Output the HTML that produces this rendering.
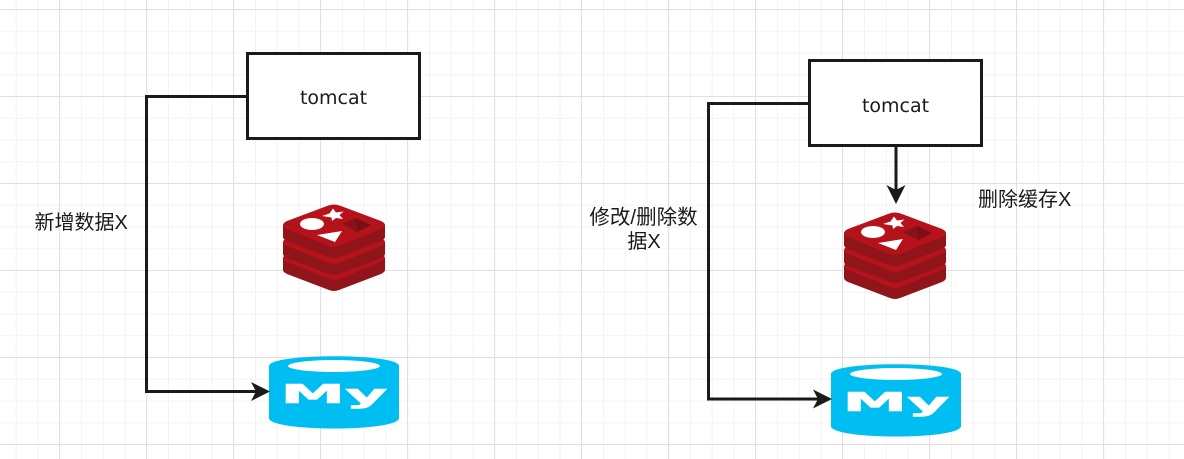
<!DOCTYPE html>
<html><head><meta charset="utf-8"><style>
html,body{margin:0;padding:0;background:#fff;width:1184px;height:459px;overflow:hidden}
svg{display:block}
text{fill:#1a1a1a}
.cjk{font-family:"Liberation Sans","Noto Sans CJK SC",sans-serif;font-size:20px}
.tc{font-family:"DejaVu Sans",sans-serif;font-size:19px;text-anchor:middle}
.my{font-family:"DejaVu Sans",sans-serif;font-weight:bold;fill:#fff;stroke:#fff;stroke-width:.6px}
</style></head><body>
<svg width="1184" height="459" viewBox="0 0 1184 459" xmlns="http://www.w3.org/2000/svg">
<defs>
<pattern id="minor" x="-6" y="9" width="21.75" height="21.75" patternUnits="userSpaceOnUse">
<path d="M0.5 0V21.75M0 0.5H21.75" stroke="#f3f3f3" stroke-width="1" fill="none"/>
</pattern>
<pattern id="major" x="59" y="9" width="87" height="87" patternUnits="userSpaceOnUse">
<path d="M0.5 0V87M0 0.5H87" stroke="#e0e0e0" stroke-width="1" fill="none"/>
</pattern>
<g id="layer">
<path d="M283 225V237Q283 239 287 241L329 257Q334 259 339 257L381 241Q385 239 385 237V225Z" fill="#8f151a"/>
<path d="M283 225Q283 223 287 221L327 206Q334 203 341 206L381 221Q385 223 385 225Q385 227 381 229L339 246Q334 248 329 246L287 229Q283 227 283 225Z" fill="#b5121b"/>
</g>
<g id="redis">
<use href="#layer" y="33"/>
<use href="#layer" y="17"/>
<use href="#layer"/>
<path d="M333 208.500L336 212.500L343.500 211.500L339.500 215L343 219L336 218L332 221L331.500 217.500L322 216L329.500 213.500Z" fill="#fff"/>
<ellipse cx="312" cy="224" rx="12" ry="6" fill="#fff"/>
<path d="M317 235L342 231L335 242Z" fill="#fff"/>
<path d="M342 224L356 218L371 225L357 232Z" fill="#7a1016"/>
<path d="M342 224L356 218L357 232Z" fill="#8f151a" opacity=".55"/>
</g>
<g id="mysql">
<path d="M269 366C269 353 399 353 399 366V418C399 432 269 432 269 418Z" fill="#00bef2"/>
<ellipse cx="334" cy="366" rx="46" ry="6" fill="#fff"/>
<text class="my" transform="translate(280.500 403) scale(2.5 1)" font-size="26">My</text>
</g>
</defs>
<rect width="1184" height="459" fill="#fff"/>
<rect width="1184" height="459" fill="url(#minor)"/>
<rect width="1184" height="459" fill="url(#major)"/>

<!-- left -->
<use href="#redis"/>
<use href="#mysql"/>
<rect x="247.500" y="53.500" width="172" height="85" fill="#fff" stroke="#1a1a1a" stroke-width="3"/>
<text class="tc" x="333.500" y="104">tomcat</text>
<path d="M247 96.500H146.500V391.500H258" fill="none" stroke="#1a1a1a" stroke-width="3"/>
<path d="M251 382L270 391.500L251 401L256 391.500Z" fill="#1a1a1a"/>
<text class="cjk" x="34.500" y="229">新增数据X</text>

<!-- right -->
<use href="#redis" x="561" y="8"/>
<use href="#mysql" x="562" y="8"/>
<rect x="809.500" y="60.500" width="172" height="85" fill="#fff" stroke="#1a1a1a" stroke-width="3"/>
<text class="tc" x="895.500" y="112">tomcat</text>
<path d="M809 103.500H708.500V399H820" fill="none" stroke="#1a1a1a" stroke-width="3"/>
<path d="M813 389.500L832 399L813 408.500L818 399Z" fill="#1a1a1a"/>
<path d="M896 146V196" fill="none" stroke="#1a1a1a" stroke-width="3"/>
<path d="M886.500 185L896 204L905.500 185L896 190Z" fill="#1a1a1a"/>
<text class="cjk" x="643.500" y="224" text-anchor="middle" style="font-size:20.500px">修改/删除数</text>
<text class="cjk" x="644" y="248" text-anchor="middle">据X</text>
<text class="cjk" x="978" y="206">删除缓存X</text>
</svg>
</body></html>
